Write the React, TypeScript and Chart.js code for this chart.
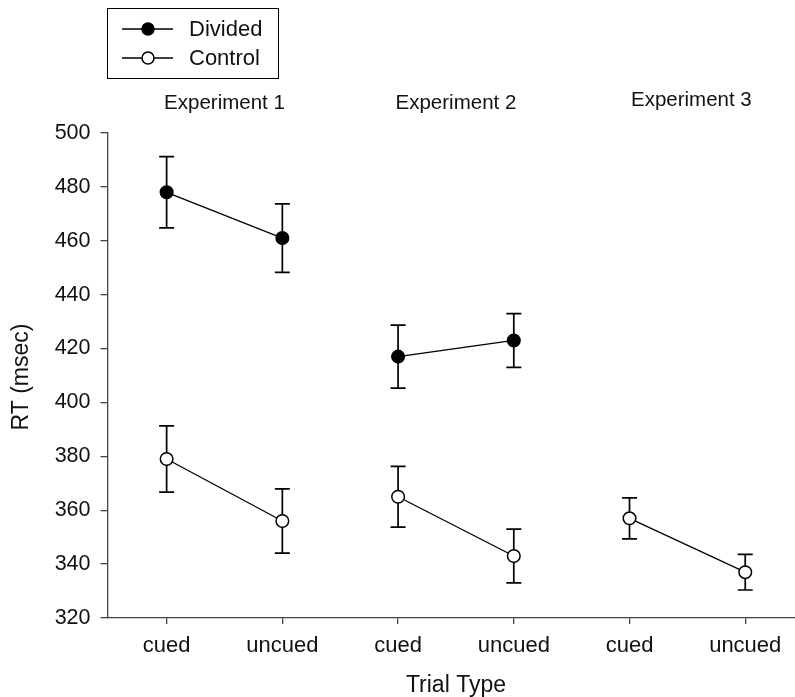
import React, { useEffect, useRef } from 'react';
import { Chart, registerables } from 'chart.js';

Chart.register(...registerables);

const categories = ['cued', 'uncued', 'cued', 'uncued', 'cued', 'uncued'];
const experiments = ['Experiment 1', 'Experiment 2', 'Experiment 3'];
const dividedMeans: (number | null)[] = [478, 461, 417, 423, null, null];
const dividedErrors: (number | null)[] = [13.2, 12.7, 11.7, 10, null, null];
const controlMeans: (number | null)[] = [379, 356, 365, 343, 357, 337];
const controlErrors: (number | null)[] = [12.3, 11.9, 11.3, 10, 7.6, 6.6];
const yTickValues = [320, 340, 360, 380, 400, 420, 440, 460, 480, 500];

const FONT = "'Liberation Sans', Arial, sans-serif";
const TEXT = '#111';
const AXIS = '#444';

const errorsByDataset = [dividedErrors, controlErrors];

const errorBarPlugin = {
  id: 'errorBars',
  beforeDatasetsDraw(chart: any) {
    const { ctx } = chart;
    const xs = chart.scales.x;
    const ys = chart.scales.y;
    ctx.save();
    ctx.strokeStyle = '#000';
    ctx.lineWidth = 1.7;
    chart.data.datasets.forEach((ds: any, di: number) => {
      const errs = errorsByDataset[di];
      ds.data.forEach((p: any, i: number) => {
        if (p.y == null || errs[i] == null) return;
        const x = xs.getPixelForValue(p.x);
        const yt = ys.getPixelForValue(p.y + (errs[i] as number));
        const yb = ys.getPixelForValue(p.y - (errs[i] as number));
        const cap = 7.5;
        ctx.beginPath();
        ctx.moveTo(x, yt);
        ctx.lineTo(x, yb);
        ctx.moveTo(x - cap, yt);
        ctx.lineTo(x + cap, yt);
        ctx.moveTo(x - cap, yb);
        ctx.lineTo(x + cap, yb);
        ctx.stroke();
      });
    });
    ctx.restore();
  },
};

const annotationPlugin = {
  id: 'annotations',
  afterDraw(chart: any) {
    const { ctx } = chart;
    const xs = chart.scales.x;
    ctx.save();
    // Experiment labels
    ctx.fillStyle = TEXT;
    ctx.font = `20.5px ${FONT}`;
    ctx.textAlign = 'center';
    ctx.textBaseline = 'middle';
    experiments.forEach((label, k) => {
      const x = (xs.getPixelForValue(2 * k + 1) + xs.getPixelForValue(2 * k + 2)) / 2;
      ctx.fillText(label, k === 2 ? x + 4 : x, k === 2 ? 100 : 103);
    });
    // Legend
    ctx.strokeStyle = '#000';
    ctx.lineWidth = 1;
    ctx.strokeRect(107.5, 8.5, 171, 70);
    const items = [
      { label: 'Divided', fill: '#000', y: 29 },
      { label: 'Control', fill: '#fff', y: 58 },
    ];
    items.forEach((it) => {
      ctx.beginPath();
      ctx.lineWidth = 1.3;
      ctx.moveTo(122, it.y);
      ctx.lineTo(173, it.y);
      ctx.stroke();
      ctx.beginPath();
      ctx.arc(148, it.y, 6, 0, Math.PI * 2);
      ctx.fillStyle = it.fill;
      ctx.fill();
      ctx.lineWidth = 1.5;
      ctx.stroke();
      ctx.fillStyle = TEXT;
      ctx.font = `22px ${FONT}`;
      ctx.textAlign = 'left';
      ctx.textBaseline = 'middle';
      ctx.fillText(it.label, 189, it.y + 1);
    });
    // Axis titles
    ctx.font = `23px ${FONT}`;
    ctx.textAlign = 'center';
    ctx.textBaseline = 'middle';
    ctx.fillText('Trial Type', (xs.getPixelForValue(1) + xs.getPixelForValue(6)) / 2, 686);
    ctx.translate(22, 377);
    ctx.rotate(-Math.PI / 2);
    ctx.fillText('RT (msec)', 0, 0);
    ctx.restore();
  },
};

function toPoints(values: (number | null)[]) {
  return values.map((v, i) => ({ x: i + 1, y: v }));
}

const sameExperiment = (ctx: any) =>
  Math.floor(ctx.p0DataIndex / 2) === Math.floor(ctx.p1DataIndex / 2) ? '#000' : 'rgba(0,0,0,0)';

export default function App() {
  const ref = useRef<HTMLCanvasElement | null>(null);
  useEffect(() => {
    if (!ref.current) return;
    const chart = new Chart(ref.current, {
      type: 'line',
      data: {
        datasets: [
          {
            label: 'Divided',
            data: toPoints(dividedMeans) as any,
            borderColor: '#000',
            borderWidth: 1.3,
            pointRadius: 6.3,
            pointBackgroundColor: '#000',
            pointBorderColor: '#000',
            pointBorderWidth: 1.5,
            spanGaps: false,
            segment: { borderColor: sameExperiment },
          } as any,
          {
            label: 'Control',
            data: toPoints(controlMeans) as any,
            borderColor: '#000',
            borderWidth: 1.3,
            pointRadius: 6.3,
            pointBackgroundColor: '#fff',
            pointBorderColor: '#000',
            pointBorderWidth: 1.5,
            spanGaps: false,
            segment: { borderColor: sameExperiment },
          } as any,
        ],
      },
      options: {
        responsive: false,
        animation: false,
        layout: { autoPadding: false, padding: { left: 0, right: 0, top: 133, bottom: 0 } },
        plugins: { legend: { display: false }, tooltip: { enabled: false } },
        scales: {
          x: {
            type: 'linear',
            min: 0.489,
            max: 6.43,
            afterBuildTicks: (scale: any) => {
              scale.ticks = categories.map((_, i) => ({ value: i + 1 }));
            },
            afterFit: (scale: any) => {
              scale.height = 79;
            },
            grid: { drawOnChartArea: false, drawTicks: true, tickLength: 6, color: AXIS, lineWidth: 1.3 },
            border: { display: true, color: AXIS, width: 1.3 },
            ticks: {
              autoSkip: false,
              maxRotation: 0,
              padding: 9,
              color: TEXT,
              font: { family: FONT, size: 22 },
              callback: (v: any) => categories[Math.round(v) - 1] ?? '',
            },
          },
          y: {
            type: 'linear',
            min: 320,
            max: 500,
            afterBuildTicks: (scale: any) => {
              scale.ticks = yTickValues.map((v) => ({ value: v }));
            },
            afterFit: (scale: any) => {
              scale.width = 107.5;
            },
            grid: { drawOnChartArea: false, drawTicks: true, tickLength: 7, color: AXIS, lineWidth: 1.3 },
            border: { display: true, color: AXIS, width: 1.3 },
            ticks: {
              padding: 10,
              color: TEXT,
              font: { family: FONT, size: 21.5 },
            },
          },
        },
      },
      plugins: [errorBarPlugin, annotationPlugin],
    } as any);
    return () => chart.destroy();
  }, []);
  return (
    <div style={{ position: 'fixed', left: 0, top: 0, width: 795, height: 697, background: '#fff' }}>
      <canvas ref={ref} width={795} height={697} style={{ display: 'block' }} />
    </div>
  );
}
